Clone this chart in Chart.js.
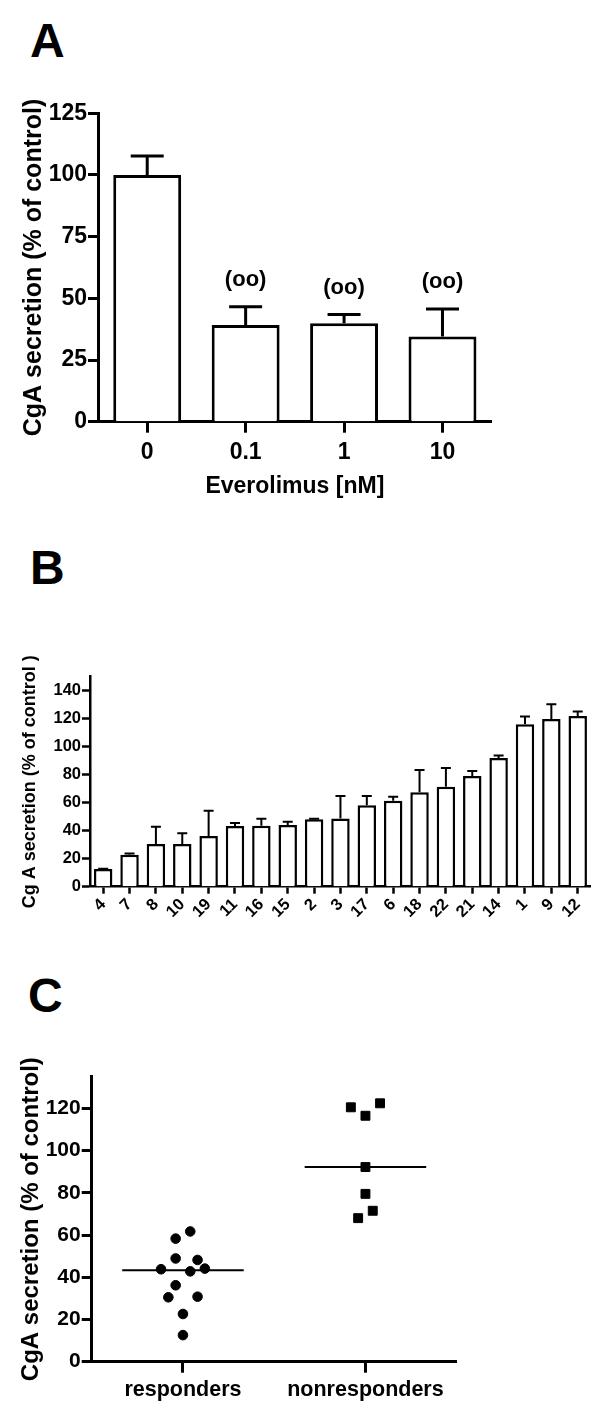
<!DOCTYPE html>
<html><head><meta charset="utf-8">
<script src="https://cdn.jsdelivr.net/npm/chart.js@4.4.0/dist/chart.umd.min.js"></script>
<style>
html,body{margin:0;padding:0;background:#fff;}
body{width:613px;height:1423px;position:relative;overflow:hidden;font-family:"Liberation Sans",Arial,sans-serif;}
.lbl{position:absolute;font-weight:bold;font-size:48px;line-height:48px;color:#000;}
canvas{position:absolute;left:0;}
</style></head><body>
<div class="lbl" style="left:30px;top:17px">A</div>
<div class="lbl" style="left:30px;top:544px">B</div>
<div class="lbl" style="left:28px;top:972px">C</div>
<canvas id="cA" width="613" height="450" style="top:70px"></canvas>
<canvas id="cB" width="613" height="320" style="top:640px"></canvas>
<canvas id="cC" width="613" height="383" style="top:1040px"></canvas>
<script>
// ---- Panel A data ----
const doseLabels = ['0', '0.1', '1', '10'];
const doseMeans = [100, 39.2, 39.9, 34.5];
const doseErrors = [7.7, 7.4, 3.5, 11.2];
const doseMarks = ['', '(oo)', '(oo)', '(oo)'];
const doseTicks = [0, 25, 50, 75, 100, 125];

// ---- Panel B data ----
const patientLabels = ['4','7','8','10','19','11','16','15','2','3','17','6','18','22','21','14','1','9','12'];
const patientMeans = [12.6, 22.8, 30.5, 30.5, 36.2, 43.3, 43.6, 44.0, 48.1, 48.8, 58.1, 61.4, 67.4, 71.4, 79.0, 91.9, 116.1, 119.7, 121.9];
const patientErrors = [0.3, 1.0, 12.3, 7.6, 18.1, 2.2, 5.0, 2.4, 0.4, 15.9, 6.6, 2.9, 15.9, 13.3, 3.6, 1.9, 5.5, 10.7, 3.3];
const patientTicks = [0, 20, 40, 60, 80, 100, 120, 140];

// ---- Panel C data ----
const groupLabels = ['responders', 'nonresponders'];
const responderValues = [61.7, 58.3, 48.9, 48.2, 43.8, 42.8, 44.1, 36.2, 30.5, 30.8, 22.6, 12.6];
const responderX = [1.04, 0.96, 0.96, 1.08, 0.88, 1.04, 1.12, 0.96, 0.92, 1.08, 1.0, 1.0];
const nonresponderValues = [120.5, 116.5, 122.4, 92.2, 79.5, 71.5, 68.0];
const nonresponderX = [1.92, 2.0, 2.08, 2.0, 2.0, 2.04, 1.96];
const groupTicks = [0, 20, 40, 60, 80, 100, 120];

const FONT = '"Liberation Sans", Arial, sans-serif';
Chart.defaults.font.family = FONT;
Chart.defaults.font.weight = 'bold';
Chart.defaults.color = '#000';

function median(a) {
  const s = a.slice().sort((p, q) => p - q);
  const m = Math.floor(s.length / 2);
  return s.length % 2 ? s[m] : (s[m - 1] + s[m]) / 2;
}

function axisStyle(tickLen, tickW, borderW) {
  return {
    grid: {drawOnChartArea: false, drawTicks: true, tickLength: tickLen, tickWidth: tickW, tickColor: '#000', offset: false},
    border: {display: true, color: '#000', width: borderW}
  };
}

function errorBarPlugin(errors, capHalf, lw, marks, markFont, markGap) {
  return {
    id: 'errbars',
    afterDatasetsDraw(chart) {
      const ctx = chart.ctx;
      const meta = chart.getDatasetMeta(0);
      const ys = chart.scales.y;
      const vals = chart.data.datasets[0].data;
      ctx.save();
      ctx.strokeStyle = '#000';
      ctx.lineWidth = lw;
      meta.data.forEach((bar, i) => {
        const e = errors[i];
        if (!e) return;
        const y0 = ys.getPixelForValue(vals[i]);
        const y1 = ys.getPixelForValue(vals[i] + e);
        ctx.beginPath();
        ctx.moveTo(bar.x, y0); ctx.lineTo(bar.x, y1);
        ctx.moveTo(bar.x - capHalf, y1); ctx.lineTo(bar.x + capHalf, y1);
        ctx.stroke();
      });
      if (marks) {
        ctx.fillStyle = '#000';
        ctx.font = markFont;
        ctx.textAlign = 'center';
        ctx.textBaseline = 'middle';
        meta.data.forEach((bar, i) => {
          if (!marks[i]) return;
          const y1 = ys.getPixelForValue(vals[i] + errors[i]);
          ctx.fillText(marks[i], bar.x, y1 - markGap);
        });
      }
      ctx.restore();
    }
  };
}

const common = {responsive: false, animation: false, devicePixelRatio: 1,
  plugins: {legend: {display: false}, tooltip: {enabled: false}}};

// ---- Panel A ----
new Chart(document.getElementById('cA'), {
  type: 'bar',
  data: {labels: doseLabels, datasets: [{data: doseMeans, backgroundColor: '#fff', borderColor: '#000', borderWidth: 3, borderSkipped: 'start', barPercentage: 0.69, categoryPercentage: 1}]},
  options: Object.assign({}, common, {
    layout: {padding: {left: 0, top: 43.3, right: 121.3, bottom: 0}},
    scales: {
      x: Object.assign(axisStyle(11, 3, 3), {
        ticks: {font: {size: 23, weight: 'bold'}, padding: 6.5, maxRotation: 0},
        title: {display: true, text: 'Everolimus [nM]', font: {size: 23, weight: 'bold'}, padding: {top: 0, bottom: 19.5}},
        afterFit(s) { s.height = 98.3; }
      }),
      y: Object.assign(axisStyle(10, 3, 3), {
        min: 0, max: 125,
        ticks: {font: {size: 23, weight: 'bold'}, padding: 1},
        afterBuildTicks(s) { s.ticks = doseTicks.map(v => ({value: v})); },
        title: {display: true, text: 'CgA secretion (% of control)', font: {size: 25, weight: 'bold'}, padding: {top: 19, bottom: 0}},
        afterFit(s) { s.width = 98; }
      })
    }
  }),
  plugins: [errorBarPlugin(doseErrors, 16.5, 3, doseMarks, 'bold 22px ' + FONT, 27)]
});

// ---- Panel B ----
new Chart(document.getElementById('cB'), {
  type: 'bar',
  data: {labels: patientLabels, datasets: [{data: patientMeans, backgroundColor: '#fff', borderColor: '#000', borderWidth: 2.5, borderSkipped: 'start', barPercentage: 0.7, categoryPercentage: 1}]},
  options: Object.assign({}, common, {
    layout: {padding: {left: 0, top: 36.7, right: 22.1, bottom: 0}},
    scales: {
      x: Object.assign(axisStyle(7, 2.5, 2.5), {
        ticks: {font: {size: 16.5, weight: 'bold'}, minRotation: 45, maxRotation: 45, padding: 1, autoSkip: false},
        afterFit(s) { s.height = 73.3; }
      }),
      y: Object.assign(axisStyle(8, 2.5, 2.5), {
        min: 0, max: 150,
        ticks: {font: {size: 16.5, weight: 'bold'}, padding: 1},
        afterBuildTicks(s) { s.ticks = patientTicks.map(v => ({value: v})); },
        title: {display: true, text: 'Cg A secretion (% of control )', font: {size: 18, weight: 'bold'}, padding: {top: 19.2, bottom: 0}},
        afterFit(s) { s.width = 90; }
      })
    }
  }),
  plugins: [errorBarPlugin(patientErrors, 5, 2, null)]
});

// ---- Panel C ----
const rMed = median(responderValues);
const nMed = median(nonresponderValues);
new Chart(document.getElementById('cC'), {
  type: 'scatter',
  data: {datasets: [
    {data: responderValues.map((v, i) => ({x: responderX[i], y: v})), pointStyle: 'circle', pointRadius: 4.8, backgroundColor: '#000', borderColor: '#000', borderWidth: 1},
    {data: nonresponderValues.map((v, i) => ({x: nonresponderX[i], y: v})), pointStyle: 'rect', pointRadius: 6.3, backgroundColor: '#000', borderColor: '#000', borderWidth: 1},
    {type: 'line', data: [{x: 0.667, y: rMed}, {x: 1.333, y: rMed}], borderColor: '#000', borderWidth: 2, pointRadius: 0},
    {type: 'line', data: [{x: 1.667, y: nMed}, {x: 2.333, y: nMed}], borderColor: '#000', borderWidth: 2, pointRadius: 0}
  ]},
  options: Object.assign({}, common, {
    layout: {padding: {left: 0, top: 36.7, right: 156.3, bottom: 0}},
    scales: {
      x: Object.assign(axisStyle(11, 3, 3), {
        type: 'linear', min: 0.5, max: 2.5,
        afterBuildTicks(s) { s.ticks = [{value: 1}, {value: 2}]; },
        ticks: {callback: (v) => groupLabels[Math.round(v) - 1] || '', font: {size: 21.5, weight: 'bold'}, padding: 4.4, maxRotation: 0, autoSkip: false},
        afterFit(s) { s.height = 61.3; }
      }),
      y: Object.assign(axisStyle(10, 3, 3), {
        min: 0, max: 135,
        ticks: {font: {size: 21, weight: 'bold'}, padding: 1},
        afterBuildTicks(s) { s.ticks = groupTicks.map(v => ({value: v})); },
        title: {display: true, text: 'CgA secretion (% of control)', font: {size: 24, weight: 'bold'}, padding: {top: 17.3, bottom: 0}},
        afterFit(s) { s.width = 91.7; }
      })
    }
  })
});
</script>
</body></html>
